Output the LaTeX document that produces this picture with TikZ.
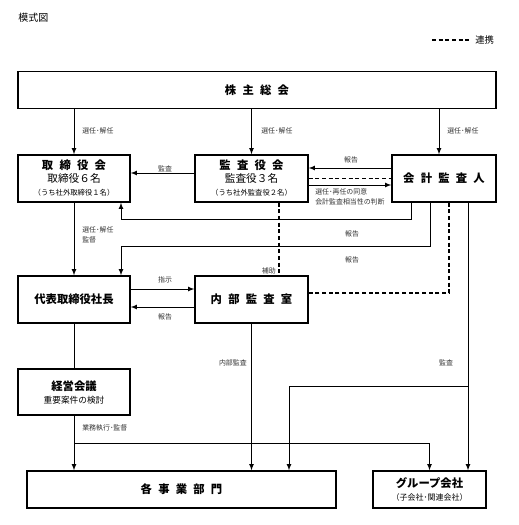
\documentclass[tikz,border=0pt]{standalone}
\usepackage{fontspec}
\setmainfont{Noto Sans CJK JP}
\usetikzlibrary{positioning}
\usetikzlibrary{calc}
\usetikzlibrary{arrows}

\newcommand{\ks}{\hspace{0.55em}}

\begin{document}
\begin{tikzpicture}[x=0.75pt,y=-0.75pt,
  box/.style={draw,line width=1pt,inner sep=0pt,align=center,minimum width=84pt,minimum height=35.25pt,font=\fontsize{8.5}{9.75}\selectfont},
  lbl/.style={font=\fontsize{5.2}{6}\selectfont,text=black!80,inner sep=0pt},
  ln/.style={line width=0.6pt},
  arr/.style={line width=0.6pt,-latex},
  rk/.style={line width=1.2pt,dash pattern=on 3pt off 2pt}]
\useasboundingbox (0,0) rectangle (518,525);

% boxes
\node[box,minimum width=358.5pt,minimum height=27.75pt](sokai) at (257,90){\bfseries 株\ks 主\ks 総\ks 会};
\node[box](torishimari) at (74,178.5){{\bfseries 取\ks 締\ks 役\ks 会}\\{\fontsize{8}{9.75}\selectfont 取締役６名}\\{\fontsize{5.5}{9.75}\selectfont （うち社外取締役１名）}};
\node[box,minimum width=84.75pt](kansayaku) at (251.5,178.5){{\bfseries 監\ks 査\ks 役\ks 会}\\{\fontsize{8}{9.75}\selectfont 監査役３名}\\{\fontsize{5.5}{9.75}\selectfont （うち社外監査役２名）}};
\node[box,minimum width=78pt](kaikei) at (444,178.5){\bfseries 会\ks 計\ks 監\ks 査\ks 人};
\node[box](daihyo) at (74,299.5){\bfseries 代表取締役社長};
\node[box,minimum width=84.75pt](naibu) at (251.5,299.5){\bfseries 内\ks 部\ks 監\ks 査\ks 室};
\node[box,minimum height=34.5pt](keiei) at (74,392){{\bfseries 経営会議}\\{\fontsize{6.5}{10.5}\selectfont 重要案件の検討}};
\node[box,minimum width=231.75pt,minimum height=27.75pt](jigyo) at (181.5,489.5){\bfseries 各\ks 事\ks 業\ks 部\ks 門};
\node[box,minimum width=84.75pt,minimum height=27.75pt](group) at (429.5,489.5){{\bfseries グループ会社}\\{\fontsize{6}{9.75}\selectfont （子会社･関連会社）}};

% title and legend
\node[anchor=west,inner sep=0pt,font=\fontsize{7.5}{9}\selectfont](title) at (18,18){模式図};
\node[anchor=west,inner sep=0pt,font=\fontsize{7}{9}\selectfont](renkei) at (475,40){連携};
\coordinate (lgs) at (432,40);
\draw[rk,shorten >=4.5pt] (lgs) -- (renkei);

% from 株主総会
\draw[arr] (sokai.south -| torishimari) -- (torishimari);
\draw[arr] (sokai.south -| kansayaku) -- (kansayaku);
\draw[arr] ($(sokai.south -| kaikei)+(-5,0)$) -- ($(kaikei.north)+(-5,0)$);
\node[lbl,anchor=west](s1) at (82,131){選任･解任};
\node[lbl,anchor=west](s2) at (261,131){選任･解任};
\node[lbl,anchor=west](s3) at (447,131){選任･解任};

% 監査役会 / 会計監査人
\draw[arr] ($(kansayaku.west)+(0,-5.5)$) -- ($(torishimari.east)+(0,-5.5)$);
\node[lbl](kansa1) at (165,169){監査};
\draw[arr] ($(kaikei.west)+(0,-10.5)$) -- ($(kansayaku.east)+(0,-10.5)$);
\node[lbl](hokoku1) at (351,160){報告};
\draw[rk] (kansayaku.east) -- (kaikei.west);
\draw[arr] ($(kansayaku.east)+(0,6.5)$) -- ($(kaikei.west)+(0,6.5)$);
\node[lbl,anchor=west,align=left,font=\fontsize{5.2}{8}\selectfont](doi) at (315,197){選任･再任の同意\\会計監査相当性の判断};

% from 会計監査人
\draw[arr] ($(kaikei.south)+(-33,0)$) |- ($(torishimari.south)+(47,17)$) -- ($(torishimari.south)+(47,0)$);
\node[lbl](hokoku2) at (352,234){報告};
\draw[arr] ($(kaikei.south)+(-14,0)$) |- ($(daihyo.north)+(47,-29)$) -- ($(daihyo.north)+(47,0)$);
\node[lbl](hokoku3) at (352,260){報告};
\draw[rk] ($(kaikei.south)+(5,0)$) |- ($(naibu.east)+(0,-6.5)$);
\draw[arr] ($(kaikei.south)+(24,0)$) -- ($(group.north)+(38.5,0)$);
\draw[arr] ($(group.north)+(38.5,-84)$) -| ($(jigyo.north)+(107.5,0)$);
\node[lbl](kansa2) at (446,363){監査};

% 取締役会 / 代表取締役社長 / 内部監査室
\draw[arr] (torishimari) -- (daihyo);
\node[lbl,anchor=west,align=left,font=\fontsize{5.2}{7.5}\selectfont](kantoku) at (82,235){選任･解任\\監督};
\draw[rk] ($(kansayaku.south)+(27.5,0)$) -- ($(naibu.north)+(27.5,0)$);
\node[lbl,anchor=east](hojo) at (276,271){補助};
\draw[arr] ($(daihyo.east)+(0,-10.5)$) -- ($(naibu.west)+(0,-10.5)$);
\node[lbl](shiji) at (165,280){指示};
\draw[arr] ($(naibu.west)+(0,7.5)$) -- ($(daihyo.east)+(0,7.5)$);
\node[lbl](hokoku4) at (165,317){報告};

% down to 各事業部門 / グループ会社
\draw[ln] (daihyo) -- (keiei);
\draw[arr] (keiei.south) -- (keiei.south |- jigyo.north);
\draw[arr] ($(keiei.south)+(0,28)$) -| (group.north);
\node[lbl,anchor=west](gyomu) at (82,428){業務執行･監督};
\draw[arr] (naibu.south) -- (naibu.south |- jigyo.north);
\node[lbl,anchor=east](naibukansa) at (247,363){内部監査};
\end{tikzpicture}
\end{document}
